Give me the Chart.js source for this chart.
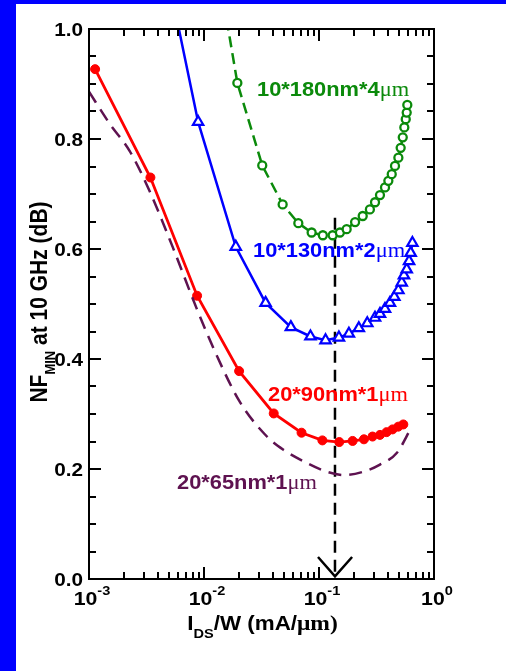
<!DOCTYPE html>
<html>
<head>
<meta charset="utf-8">
<script src="https://cdn.jsdelivr.net/npm/chart.js@4.4.0/dist/chart.umd.min.js"></script>
<style>
  html, body { margin: 0; padding: 0; background: #fff; }
  canvas { display: block; }
</style>
</head>
<body>
<canvas id="nfChart" width="506" height="671"></canvas>
<script>
// NFmin at 10 GHz vs current density
const x180 = [0.0112, 0.0195, 0.0321, 0.0483, 0.0661, 0.0863, 0.108, 0.1315, 0.152, 0.174, 0.206, 0.240, 0.277, 0.307, 0.339, 0.375, 0.401, 0.429, 0.458, 0.490, 0.513, 0.535, 0.552, 0.568, 0.579, 0.586];
const y180 = [1.20, 0.902, 0.752, 0.681, 0.647, 0.630, 0.625, 0.625, 0.630, 0.636, 0.649, 0.660, 0.672, 0.685, 0.698, 0.712, 0.724, 0.736, 0.751, 0.766, 0.784, 0.803, 0.821, 0.836, 0.848, 0.862];

const x130 = [0.0042, 0.00889, 0.0189, 0.0343, 0.0569, 0.0843, 0.114, 0.149, 0.182, 0.222, 0.263, 0.307, 0.339, 0.375, 0.414, 0.452, 0.490, 0.524, 0.548, 0.579, 0.607, 0.627, 0.649];
const y130 = [1.16, 0.831, 0.604, 0.502, 0.458, 0.441, 0.434, 0.439, 0.446, 0.456, 0.465, 0.475, 0.482, 0.491, 0.502, 0.513, 0.525, 0.539, 0.552, 0.563, 0.578, 0.593, 0.611];

const x90 = [0.00113, 0.00342, 0.00871, 0.0202, 0.0404, 0.0705, 0.107, 0.150, 0.196, 0.246, 0.292, 0.339, 0.387, 0.436, 0.489, 0.541];
const y90 = [0.927, 0.730, 0.515, 0.378, 0.301, 0.266, 0.252, 0.249, 0.251, 0.254, 0.259, 0.262, 0.267, 0.272, 0.277, 0.281];

const x65 = [0.001, 0.00151, 0.00226, 0.00337, 0.00538, 0.00859, 0.0128, 0.0205, 0.0349, 0.0490, 0.0782, 0.1167, 0.166, 0.251, 0.339, 0.474, 0.638];
const y65 = [0.886, 0.828, 0.778, 0.705, 0.602, 0.493, 0.408, 0.322, 0.260, 0.235, 0.211, 0.195, 0.189, 0.196, 0.208, 0.229, 0.276];

// optimum current density marker (dashed line + arrow head)
const markX = [0.1377, 0.1377];
const markY = [0.657, 0.0];
const arrowX = [0.098, 0.1377, 0.194];
const arrowY = [0.04, 0.005, 0.04];

const yTickLabels = ["0.0", "0.2", "0.4", "0.6", "0.8", "1.0"];
const xTickExps = ["-3", "-2", "-1", "0"];

const series = [
  { label: "10*180nm*4", color: "#0b8a0b" },
  { label: "10*130nm*2", color: "#0000ff" },
  { label: "20*90nm*1", color: "#ff0000" },
  { label: "20*65nm*1", color: "#5e1250" },
];

const pts = (xs, ys) => xs.map((x, i) => ({ x: x, y: ys[i] }));

const SX = 1.12; // the figure is a bit wider than tall
const SANS = '"Liberation Sans", Arial, sans-serif';
const SERIF = '"Liberation Serif", "Times New Roman", serif';

// draw a row of text pieces, each with own font and baseline shift
function drawRuns(ctx, runs, x, y, align, color) {
  ctx.save();
  ctx.fillStyle = color;
  ctx.textBaseline = "alphabetic";
  ctx.textAlign = "left";
  let w = 0;
  runs.forEach((r) => { ctx.font = r.font; w += ctx.measureText(r.text).width; });
  ctx.translate(x, y);
  ctx.scale(SX, 1);
  let cx = align === "center" ? -w / 2 : align === "right" ? -w : 0;
  runs.forEach((r) => {
    ctx.font = r.font;
    ctx.fillText(r.text, cx, r.dy || 0);
    cx += ctx.measureText(r.text).width;
  });
  ctx.restore();
}

const framePlugin = {
  id: "frame",
  beforeDraw(chart) {
    const c = chart.ctx;
    c.save();
    c.fillStyle = "#0000ff";
    c.fillRect(0, 0, chart.width, chart.height);
    c.fillStyle = "#ffffff";
    c.fillRect(16, 4, chart.width - 16, chart.height - 4);
    c.restore();
  },
  afterDraw(chart) {
    const c = chart.ctx;
    const a = chart.chartArea;
    const sx = chart.scales.x;
    const sy = chart.scales.y;
    const L = Math.round(a.left), R = Math.round(a.right);
    const T = Math.round(a.top), B = Math.round(a.bottom);
    c.save();
    c.setLineDash([]);
    c.fillStyle = "#000";
    // frame
    c.fillRect(L - 1, T - 1, R - L + 2, 2);
    c.fillRect(L - 1, B - 1, R - L + 2, 2);
    c.fillRect(L - 1, T - 1, 2, B - T + 2);
    c.fillRect(R - 1, T - 1, 2, B - T + 2);

    // y ticks, both sides, pointing in
    for (let i = 0; i <= 20; i++) {
      const py = Math.round(sy.getPixelForValue(i * 0.05));
      const len = i % 4 === 0 ? 12 : 7;
      c.fillRect(L, py - 1, len, 2);
      c.fillRect(R - len, py - 1, len, 2);
    }
    // x ticks, log decades
    for (let d = -3; d <= 0; d++) {
      for (let m = 1; m <= 9; m++) {
        if (d === 0 && m > 1) break;
        const px = Math.round(sx.getPixelForValue(m * Math.pow(10, d)));
        const len = m === 1 ? 12 : 7;
        c.fillRect(px - 1, B - len, 2, len);
        c.fillRect(px - 1, T, 2, len);
      }
    }
    c.restore();

    // tick labels
    const bold = (s) => "bold " + s + "px " + SANS;
    yTickLabels.forEach((t, i) => {
      const py = sy.getPixelForValue(i * 0.2);
      drawRuns(c, [{ text: t, font: bold(18.5) }], a.left - 6, py + 6.5, "right", "#000");
    });
    xTickExps.forEach((e, i) => {
      const px = sx.getPixelForValue(Math.pow(10, i - 3));
      drawRuns(c, [
        { text: "10", font: bold(19) },
        { text: e, font: bold(13), dy: -10 },
      ], px + 3, a.bottom + 26, "center", "#000");
    });

    // axis titles
    drawRuns(c, [
      { text: "I", font: bold(20) },
      { text: "DS", font: bold(13), dy: 8 },
      { text: "/W (mA/", font: bold(20) },
      { text: "\u03bcm)", font: "bold 21px " + SERIF },
    ], (a.left + a.right) / 2 + 1, a.bottom + 51, "center", "#000");

    c.save();
    c.translate(46.5, (a.top + a.bottom) / 2 - 2);
    c.rotate(-Math.PI / 2);
    c.fillStyle = "#000";
    const yRuns = [
      { text: "NF", font: bold(21) },
      { text: "MIN", font: bold(13), dy: 8 },
      { text: " at 10 GHz (dB)", font: bold(21) },
    ];
    let w = 0;
    yRuns.forEach((r) => { c.font = r.font; w += c.measureText(r.text).width; });
    c.scale(1, SX);
    let cx = -w / 2;
    yRuns.forEach((r) => {
      c.font = r.font;
      c.fillText(r.text, cx, r.dy || 0);
      cx += c.measureText(r.text).width;
    });
    c.restore();

    // curve labels
    const labelPos = [[257, 95.7], [253, 257], [268, 400.5], [177, 489]];
    series.forEach((s, i) => {
      drawRuns(c, [
        { text: s.label, font: bold(19.5) },
        { text: "\u03bcm", font: "20px " + SERIF },
      ], labelPos[i][0], labelPos[i][1], "left", s.color);
    });
  },
};

const ctx = document.getElementById("nfChart").getContext("2d");
new Chart(ctx, {
  type: "line",
  data: {
    datasets: [
      {
        label: "20*65nm*1um",
        data: pts(x65, y65),
        borderColor: series[3].color,
        borderWidth: 2.5,
        borderDash: [13, 8],
        pointRadius: 0,
        cubicInterpolationMode: "monotone",
      },
      {
        label: "20*90nm*1um",
        data: pts(x90, y90),
        borderColor: series[2].color,
        backgroundColor: series[2].color,
        borderWidth: 2.8,
        pointRadius: 4.5,
        pointBorderWidth: 1,
        pointStyle: "circle",
      },
      {
        label: "10*130nm*2um",
        data: pts(x130, y130),
        borderColor: series[1].color,
        borderWidth: 2.5,
        pointRadius: 6,
        pointBorderWidth: 2.2,
        pointStyle: "triangle",
        pointBackgroundColor: "#ffffff",
      },
      {
        label: "10*180nm*4um",
        data: pts(x180, y180),
        borderColor: series[0].color,
        borderWidth: 2.5,
        borderDash: [11, 6],
        pointRadius: 4,
        pointBorderWidth: 2.3,
        pointStyle: "circle",
        pointBackgroundColor: "#ffffff",
      },
      {
        label: "optimum",
        data: pts(markX, markY),
        borderColor: "#000",
        borderWidth: 2.5,
        borderDash: [12, 7],
        pointRadius: 0,
      },
      {
        label: "arrow",
        data: pts(arrowX, arrowY),
        borderColor: "#000",
        borderWidth: 2.5,
        pointRadius: 0,
      },
    ],
  },
  options: {
    responsive: false,
    animation: false,
    devicePixelRatio: 1,
    layout: { padding: { left: 89, right: 72, top: 29, bottom: 92 } },
    plugins: {
      legend: { display: false },
      tooltip: { enabled: false },
    },
    scales: {
      x: { type: "logarithmic", min: 0.001, max: 1, display: false },
      y: { type: "linear", min: 0, max: 1, display: false },
    },
  },
  plugins: [framePlugin],
});
</script>
</body>
</html>
